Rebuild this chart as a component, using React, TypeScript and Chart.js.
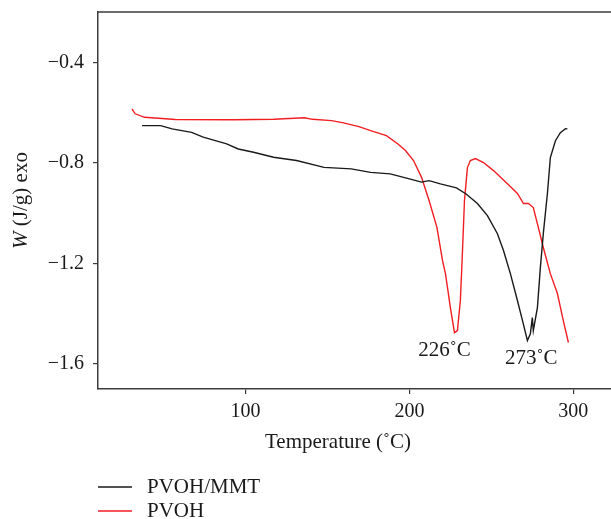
import React, { useEffect, useRef } from "react";
import { Chart, registerables } from "chart.js";

Chart.register(...registerables);

// ---- data ----
const seriesLabels = ["PVOH/MMT", "PVOH"];
const seriesColors = ["#1a1a1a", "#f01e23"];

const mmtX = [36.9, 48.2, 55.2, 67.1, 74.2, 88.5, 95.6, 104.9, 117.1, 131.1, 147.9, 164.5, 176.3, 188.3, 200.0, 207.4, 212.0, 218.9, 228.7, 234.6, 241.5, 247.6, 253.7, 257.4, 261.6, 265.9, 269.0, 272.0, 273.8, 275.0, 275.6, 278.1, 279.9, 281.7, 284.2, 286.0, 289.1, 292.1, 295.2, 296.4];
const mmtY = [-0.652, -0.652, -0.665, -0.679, -0.698, -0.725, -0.745, -0.758, -0.778, -0.791, -0.818, -0.824, -0.838, -0.844, -0.864, -0.877, -0.871, -0.884, -0.9, -0.924, -0.962, -1.01, -1.082, -1.149, -1.241, -1.348, -1.428, -1.507, -1.48, -1.416, -1.468, -1.376, -1.217, -1.082, -0.922, -0.779, -0.712, -0.68, -0.664, -0.665];

const pvohX = [30.7, 32.7, 38.4, 57.3, 93.3, 117.1, 136.0, 140.9, 152.5, 159.8, 169.2, 176.3, 186.0, 193.0, 197.6, 202.5, 207.4, 212.0, 216.8, 220.2, 222.0, 225.0, 227.5, 229.3, 231.1, 232.4, 233.6, 235.4, 237.2, 240.3, 245.2, 251.3, 259.8, 265.9, 269.6, 272.6, 275.6, 278.7, 281.7, 286.0, 290.3, 293.9, 297.0];
const pvohY = [-0.585, -0.605, -0.619, -0.628, -0.629, -0.627, -0.621, -0.627, -0.632, -0.641, -0.656, -0.672, -0.692, -0.725, -0.751, -0.791, -0.858, -0.95, -1.057, -1.189, -1.241, -1.376, -1.476, -1.468, -1.348, -1.149, -0.95, -0.819, -0.791, -0.783, -0.799, -0.831, -0.883, -0.922, -0.962, -0.962, -0.978, -1.058, -1.137, -1.241, -1.32, -1.428, -1.515];

const xTicks = [100, 200, 300];
const yTicks = [-0.4, -0.8, -1.2, -1.6];
const xRange = [10, 323];
const yRange = [-1.7, -0.2];

const annotationLabels = ["226˚C", "273˚C"];
const annotationX = [221.4, 274.4];
const annotationY = [-1.547, -1.579];

const xTitle = "Temperature (˚C)";
const yTitleItalic = "W";
const yTitleRest = " (J/g) exo";

const FONT = "'Liberation Serif', 'DejaVu Serif', serif";
const AXIS_COLOR = "#3c3c3c";
const TEXT_COLOR = "#1a1a1a";

const toPoints = (xs: number[], ys: number[]) => xs.map((x, i) => ({ x, y: ys[i] }));
const fmt = (v: number) => {
  const s = Number.isInteger(v) ? String(v) : v.toFixed(1);
  return s.replace("-", "\u2212");
};

const extrasPlugin = {
  id: "extras",
  afterDraw(chart: any) {
    const { ctx, chartArea } = chart;
    const { left, top, right, bottom } = chartArea;
    ctx.save();
    // top border
    ctx.strokeStyle = AXIS_COLOR;
    ctx.lineWidth = 1.5;
    ctx.beginPath();
    ctx.moveTo(left, top);
    ctx.lineTo(right, top);
    ctx.stroke();

    // x title
    ctx.fillStyle = TEXT_COLOR;
    ctx.font = `21px ${FONT}`;
    ctx.textAlign = "center";
    ctx.textBaseline = "middle";
    ctx.fillText(xTitle, 338, 442);

    // y title with italic W
    ctx.textAlign = "left";
    ctx.translate(21, (top + bottom) / 2);
    ctx.rotate(-Math.PI / 2);
    ctx.font = `italic 21px ${FONT}`;
    const w1 = ctx.measureText(yTitleItalic).width;
    ctx.font = `21px ${FONT}`;
    const w2 = ctx.measureText(yTitleRest).width;
    const start = -(w1 + w2) / 2;
    ctx.font = `italic 21px ${FONT}`;
    ctx.fillText(yTitleItalic, start, 0);
    ctx.font = `21px ${FONT}`;
    ctx.fillText(yTitleRest, start + w1, 0);
    ctx.restore();

    // annotations
    ctx.save();
    const xs = chart.scales.x;
    const ys = chart.scales.y;
    ctx.font = `21px ${FONT}`;
    ctx.fillStyle = TEXT_COLOR;
    ctx.textAlign = "center";
    ctx.textBaseline = "middle";
    annotationLabels.forEach((lab, i) => {
      ctx.fillText(lab, xs.getPixelForValue(annotationX[i]), ys.getPixelForValue(annotationY[i]));
    });

    // legend
    ctx.textAlign = "left";
    chart.data.datasets.forEach((ds: any, i: number) => {
      const y = 487 + i * 24;
      ctx.strokeStyle = ds.borderColor;
      ctx.lineWidth = 1.5;
      ctx.beginPath();
      ctx.moveTo(98, y);
      ctx.lineTo(132, y);
      ctx.stroke();
      ctx.fillStyle = TEXT_COLOR;
      ctx.fillText(ds.label, 147, y);
    });
    ctx.restore();
  },
};

export default function App() {
  const ref = useRef<HTMLCanvasElement | null>(null);
  useEffect(() => {
    if (!ref.current) return;
    const chart = new Chart(ref.current, {
      type: "line",
      data: {
        datasets: [
          {
            label: seriesLabels[0],
            data: toPoints(mmtX, mmtY),
            borderColor: seriesColors[0],
            borderWidth: 1.4,
            pointRadius: 0,
            tension: 0,
          },
          {
            label: seriesLabels[1],
            data: toPoints(pvohX, pvohY),
            borderColor: seriesColors[1],
            borderWidth: 1.4,
            pointRadius: 0,
            tension: 0,
          },
        ],
      },
      options: {
        animation: false,
        responsive: false,
        devicePixelRatio: 1,
        layout: { padding: { top: 12, left: 0, right: 0, bottom: 0 } },
        plugins: {
          legend: { display: false },
          tooltip: { enabled: false },
        },
        scales: {
          x: {
            type: "linear",
            min: xRange[0],
            max: xRange[1],
            afterBuildTicks: (s: any) => {
              s.ticks = xTicks.map((v) => ({ value: v }));
            },
            afterFit: (s: any) => {
              s.height = 130;
              s.paddingLeft = 0;
              s.paddingRight = 0;
            },
            grid: {
              drawOnChartArea: false,
              drawTicks: true,
              tickLength: 5,
              color: AXIS_COLOR,
              lineWidth: 1.2,
            },
            border: { display: true, color: AXIS_COLOR, width: 1.5 },
            ticks: {
              color: TEXT_COLOR,
              font: { family: FONT, size: 20 },
              padding: 6,
              maxRotation: 0,
              callback: (v: any) => fmt(Number(v)),
            },
          },
          y: {
            type: "linear",
            min: yRange[0],
            max: yRange[1],
            afterBuildTicks: (s: any) => {
              s.ticks = yTicks.map((v) => ({ value: v }));
            },
            afterFit: (s: any) => {
              s.width = 98;
              s.paddingTop = 0;
              s.paddingBottom = 0;
            },
            grid: {
              drawOnChartArea: false,
              drawTicks: true,
              tickLength: 5,
              color: AXIS_COLOR,
              lineWidth: 1.2,
            },
            border: { display: true, color: AXIS_COLOR, width: 1.5 },
            ticks: {
              color: TEXT_COLOR,
              font: { family: FONT, size: 20 },
              padding: 9,
              callback: (v: any) => fmt(Number(v)),
            },
          },
        },
      },
      plugins: [extrasPlugin],
    } as any);
    return () => chart.destroy();
  }, []);

  return (
    <div style={{ position: "absolute", left: 0, top: 0, width: 611, height: 519, background: "#fff" }}>
      <canvas ref={ref} width={611} height={519} style={{ display: "block" }} />
    </div>
  );
}
